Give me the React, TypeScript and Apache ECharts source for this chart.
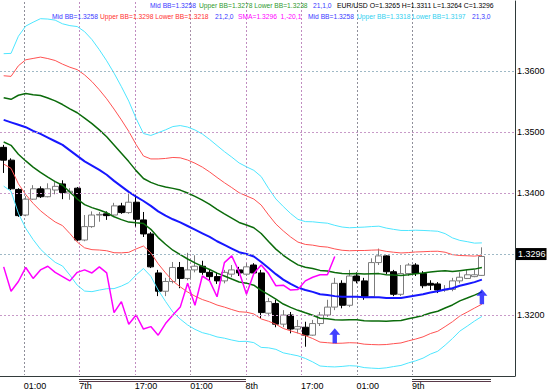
import React, { useEffect, useRef } from 'react';
import * as echarts from 'echarts';

// ---- data (EUR/USD candles) ----
const slotCount = 70;
const opens = [1.3475,1.3454,1.3406,1.3364,1.3390,1.3407,1.3394,1.3405,1.3415,1.3400,
  1.3408,1.3323,1.3345,1.3364,1.3366,1.3364,1.3379,1.3368,1.3385,1.3356,
  1.3333,1.3269,1.3239,1.3255,1.3278,1.3260,1.3274,1.3280,1.3270,1.3263,
  1.3256,1.3267,1.3274,1.3267,1.3282,1.3269,1.3203,1.3219,1.3185,1.3200,
  1.3177,1.3180,1.3167,1.3186,1.3200,1.3213,1.3252,1.3216,1.3264,1.3256,
  1.3230,1.3286,1.3297,1.3271,1.3234,1.3268,1.3282,1.3268,1.3252,1.3251,
  1.3241,1.3242,1.3256,1.3260,1.3263,1.3265];
const closes = [1.3454,1.3407,1.3363,1.3390,1.3407,1.3394,1.3407,1.3411,1.3401,1.3403,
  1.3323,1.3345,1.3364,1.3365,1.3363,1.3379,1.3368,1.3385,1.3357,1.3333,
  1.3279,1.3239,1.3255,1.3278,1.3260,1.3274,1.3280,1.3270,1.3263,1.3256,
  1.3270,1.3274,1.3269,1.3279,1.3269,1.3204,1.3222,1.3185,1.3200,1.3177,
  1.3181,1.3167,1.3186,1.3200,1.3213,1.3252,1.3216,1.3264,1.3256,1.3230,
  1.3286,1.3297,1.3271,1.3234,1.3268,1.3282,1.3268,1.3248,1.3249,1.3241,
  1.3242,1.3256,1.3262,1.3266,1.3266,1.3296];
const highs = [1.3479,1.3457,1.3408,1.3395,1.3413,1.3411,1.3416,1.3418,1.3421,1.3408,
  1.3410,1.3364,1.3370,1.3369,1.3370,1.3384,1.3384,1.3400,1.3397,1.3369,
  1.3336,1.3274,1.3261,1.3287,1.3287,1.3302,1.3298,1.3289,1.3274,1.3270,
  1.3274,1.3282,1.3279,1.3285,1.3285,1.3274,1.3228,1.3225,1.3208,1.3205,
  1.3192,1.3189,1.3192,1.3205,1.3225,1.3261,1.3257,1.3274,1.3270,1.3261,
  1.3293,1.3309,1.3298,1.3274,1.3282,1.3285,1.3285,1.3272,1.3257,1.3254,
  1.3249,1.3261,1.3270,1.3274,1.3274,1.3311];
const lows = [1.3433,1.3405,1.3361,1.3362,1.3389,1.3392,1.3393,1.3398,1.3390,1.3389,
  1.3321,1.3321,1.3343,1.3353,1.3356,1.3362,1.3366,1.3366,1.3345,1.3328,
  1.3277,1.3231,1.3231,1.3252,1.3244,1.3257,1.3270,1.3266,1.3257,1.3251,
  1.3252,1.3262,1.3264,1.3264,1.3266,1.3195,1.3198,1.3180,1.3180,1.3170,
  1.3170,1.3148,1.3166,1.3182,1.3197,1.3208,1.3211,1.3213,1.3252,1.3225,
  1.3228,1.3282,1.3267,1.3231,1.3231,1.3264,1.3264,1.3244,1.3241,1.3236,
  1.3238,1.3239,1.3252,1.3259,1.3262,1.3264];

const bbMid = [1.3520,1.3516,1.3512,1.3508,1.3502,1.3497,1.3491,1.3485,1.3479,1.3470,
  1.3461,1.3452,1.3445,1.3438,1.3430,1.3420,1.3411,1.3402,1.3394,1.3387,
  1.3379,1.3370,1.3363,1.3357,1.3352,1.3346,1.3340,1.3334,1.3328,1.3321,
  1.3315,1.3309,1.3303,1.3300,1.3296,1.3287,1.3277,1.3267,1.3258,1.3251,
  1.3245,1.3241,1.3238,1.3234,1.3233,1.3231,1.3230,1.3230,1.3230,1.3229,
  1.3229,1.3229,1.3228,1.3228,1.3228,1.3230,1.3232,1.3234,1.3237,1.3239,
  1.3242,1.3244,1.3248,1.3251,1.3254,1.3258];
const bbSd = [0.00362,0.00377,0.00484,0.00553,0.00594,0.00630,0.00648,0.00662,0.00662,0.00682,
  0.00707,0.00709,0.00689,0.00657,0.00623,0.00589,0.00545,0.00496,0.00428,0.00369,
  0.00385,0.00430,0.00469,0.00507,0.00529,0.00541,0.00545,0.00543,0.00533,0.00523,
  0.00510,0.00500,0.00488,0.00477,0.00471,0.00467,0.00436,0.00411,0.00400,0.00385,
  0.00373,0.00374,0.00383,0.00392,0.00392,0.00387,0.00381,0.00377,0.00379,0.00384,
  0.00387,0.00389,0.00382,0.00375,0.00369,0.00362,0.00357,0.00349,0.00337,0.00328,
  0.00305,0.00275,0.00248,0.00231,0.00213,0.00201];

const smaShift = 20; // SMA(1) shifted -20 bars
const signalIdx = [45, 65];
const signalPrice = [1.3166, 1.3230];

const timeLabels = ['01:00', '7th', '17:00', '01:00', '8th', '17:00', '01:00', '9th'];
const labelSlots = 66;
const labelStart = 3;
const labelStep = 7;
const yTickLabels = ['1.3200', '1.3400', '1.3500', '1.3600'];
const gridLevels = [1.32, 1.33, 1.34, 1.35, 1.36];
const gridColors = ['#c89ac8', '#9fb9c6', '#c89ac8', '#c89ac8', '#9fb9c6'];
const vGridColors = ['#8f8f9a', '#c08cc0', '#c08cc0', '#a890a8', '#c08cc0', '#c08cc0', '#8f8f9a', '#8f8f9a'];

const FONT = 'Liberation Sans';

export default function App() {
  const ref = useRef<HTMLDivElement>(null);
  useEffect(() => {
    const chart = echarts.init(ref.current!, null, { renderer: 'svg' });
    const r5 = (v: number) => Math.round(v * 1e5) / 1e5;
    const band = (k: number) => bbMid.map((m, i) => r5(m + k * bbSd[i]));
    const slots = Array.from({ length: slotCount }, (_, i) => String(i));
    const labelIdx = timeLabels.map((_, k) => labelStart + k * labelStep);
    const labelCats = Array.from({ length: labelSlots }, (_, i) => {
      const k = labelIdx.indexOf(i);
      return k >= 0 ? `${timeLabels[k]}#${i}` : `#${i}`;
    });
    const lastLabel = labelIdx[labelIdx.length - 1];
    const isLabel = (idx: number) => labelIdx.includes(idx);
    const candles = opens.map((o, i) => [o, closes[i], lows[i], highs[i]]);
    const sma = slots.map((_, i) => (i + smaShift < closes.length ? closes[i + smaShift] : '-'));
    const last = closes[closes.length - 1];

    const lineSeries = (name: string, data: number[], color: string, width: number) => ({
      name, type: 'line', data, symbol: 'none', silent: true, z: 3,
      lineStyle: { color, width }, itemStyle: { color },
    });

    const text = (x: number, y: number, s: string, color: string, size = 6.7) => ({
      type: 'text', x, y, silent: true, z: 20,
      style: { text: s, fill: color, fontSize: size, fontFamily: FONT, textVerticalAlign: 'middle' },
    });

    chart.setOption({
      animation: false,
      backgroundColor: '#ffffff',
      grid: { left: 0, right: 38, top: 1, bottom: 16, containLabel: false },
      xAxis: [
        {
          type: 'category', data: slots, boundaryGap: true,
          axisLine: { show: true, lineStyle: { color: '#333b3b', width: 1 } },
          axisTick: { show: false }, axisLabel: { show: false }, splitLine: { show: false },
        },
        {
          type: 'category', data: labelCats, boundaryGap: false, position: 'bottom',
          axisLine: { show: false }, axisTick: { show: false },
          axisLabel: {
            interval: (idx: number) => isLabel(idx), align: 'left', margin: 5,
            fontSize: 9, color: '#000', fontFamily: FONT,
            formatter: (v: string) => v.split('#')[0],
          },
          splitLine: { show: false },
        },
      ],
      yAxis: {
        type: 'value', position: 'right', min: 1.31, max: 1.3715, interval: 0.01,
        axisLine: { show: true, lineStyle: { color: '#2f3a3a', width: 1 } },
        axisTick: { show: false },
        splitLine: { show: false },
        axisLabel: {
          margin: 2, fontSize: 9, color: '#000', fontFamily: FONT,
          formatter: (v: number) => {
            const s = v.toFixed(4);
            return yTickLabels.includes(s) ? s : '';
          },
        },
      },
      series: [
        {
          type: 'line', data: slots.map(() => '-'), symbol: 'none', silent: true, z: 1,
          markLine: {
            silent: true, symbol: ['none', 'none'], label: { show: false },
            lineStyle: { type: [2, 2], width: 1 },
            data: gridLevels.map((v, i) => ({ yAxis: v, lineStyle: { color: gridColors[i], type: [2, 2], width: 1 } })),
          },
        },
        {
          type: 'candlestick', data: candles, barWidth: 6.5, z: 2, silent: true,
          itemStyle: { color: '#ffffff', color0: '#000000', borderColor: '#7c7c7c', borderColor0: '#000000', borderWidth: 1 },
          markLine: {
            silent: true, symbol: ['none', 'none'],
            lineStyle: { color: 'rgba(0,0,0,0)', width: 0 },
            label: {
              show: true, position: 'end', distance: 1, formatter: last.toFixed(4),
              color: '#ffffff', backgroundColor: '#000000', fontSize: 9, fontFamily: FONT,
              padding: [2, 1, 1, 2],
            },
            data: [{ yAxis: last }],
            z: 7,
          },
        },
        lineSeries('BB3 upper', band(3), '#4ee6ff', 1),
        lineSeries('BB3 lower', band(-3), '#4ee6ff', 1),
        lineSeries('BB2 upper', band(2), '#ff5252', 1),
        lineSeries('BB2 lower', band(-2), '#ff5252', 1),
        lineSeries('BB1 upper', band(1), '#0b6b0b', 1.5),
        lineSeries('BB1 lower', band(-1), '#0b6b0b', 1.5),
        lineSeries('BB mid', bbMid, '#1717ff', 2),
        {
          name: 'SMA', type: 'line', data: sma, symbol: 'none', silent: true, z: 4,
          lineStyle: { color: '#ff00ff', width: 1.5 },
        },
        {
          type: 'scatter', z: 5, silent: true,
          data: signalIdx.map((i, k) => [i, signalPrice[k]]),
          symbol: 'path://M5,0L10,6L7,6L7,14L3,14L3,6L0,6Z',
          symbolSize: [11, 15],
          itemStyle: { color: '#1212ff' },
        },
      ],
    });

    // header texts, vertical grid and day separator lines (positioned through the axes)
    const px = (idx: number) => Math.round(chart.convertToPixel({ xAxisIndex: 1 }, idx) as number);
    const yb = Math.round(chart.convertToPixel({ yAxisIndex: 0 }, 1.31) as number);
    const vgrid = labelIdx.map((idx, k) => ({
      type: 'line', silent: true, z: 1,
      shape: { x1: px(idx) + 0.5, y1: 2, x2: px(idx) + 0.5, y2: yb - 1 },
      style: { stroke: vGridColors[k], lineWidth: 1, lineDash: [2, 2], fill: null },
    }));
    const spans = [[labelIdx[1], labelIdx[4] - 0.2], [lastLabel, lastLabel + 10]];
    const seps: any[] = [];
    spans.forEach(([a, b]) => {
      [3.5, 5.5].forEach((dy) => {
        seps.push({
          type: 'line', silent: true,
          shape: { x1: px(a), y1: yb + dy, x2: px(b), y2: yb + dy },
          style: { stroke: dy < 4 ? '#3a3a3a' : '#5a3a4a', lineWidth: 1 },
        });
      });
    });
    chart.setOption({
      graphic: [
        ...seps,
        ...vgrid,
        text(150, 5.5, 'Mid BB=1.3258', '#3a3aff'),
        text(199, 5.5, 'Upper BB=1.3278 Lower BB=1.3238', '#2f9a2f'),
        text(313, 5.5, '21,1,0', '#3a3aff'),
        text(337, 5.5, 'EUR/USD O=1.3265 H=1.3311 L=1.3264 C=1.3296', '#000000', 6.85),
        text(52, 16, 'Mid BB=1.3258', '#3a3aff'),
        text(100, 16, 'Upper BB=1.3298 Lower BB=1.3218', '#ff3030'),
        text(215, 16, '21,2,0', '#3a3aff'),
        text(238, 16, 'SMA=1.3296  1,-20,1', '#ff00ff'),
        text(308, 16, 'Mid BB=1.3258', '#3a3aff'),
        text(357, 16, 'Upper BB=1.3318 Lower BB=1.3197', '#30d0f0'),
        text(472, 16, '21,3,0', '#3a3aff'),
      ],
    });

    return () => chart.dispose();
  }, []);
  return (
    <div
      ref={ref}
      style={{ position: 'fixed', left: 0, top: 0, width: 553, height: 392, background: '#fff' }}
    />
  );
}
